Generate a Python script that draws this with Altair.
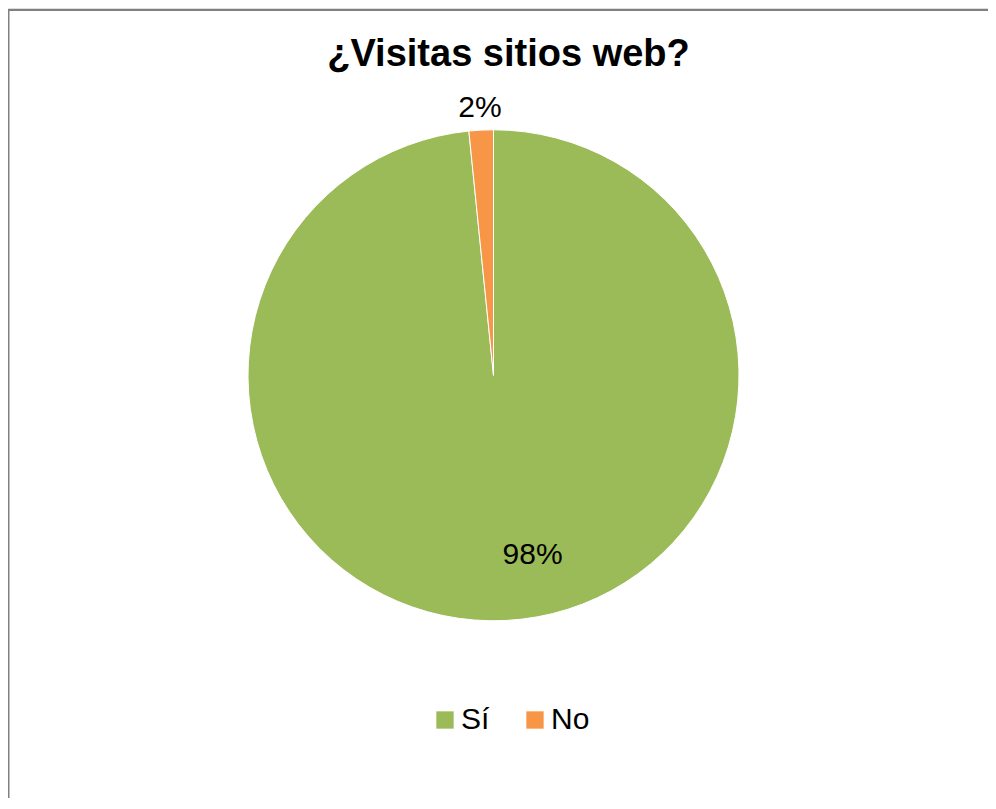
import altair as alt
import pandas as pd

categories = ["Sí", "No"]
values = [98.4, 1.6]
order = [1, 2]
colors = ["#9BBB59", "#F79646"]
title_text = "¿Visitas sitios web?"

df = pd.DataFrame({"cat": categories, "value": values, "ord": order})
total = sum(values)

W, H = 980, 790
CX, CY, R = 485.5, 367.3, 245.5
FONT = "Liberation Sans"

base = alt.Chart(df)

pie = base.mark_arc(outerRadius=R, x=CX, y=CY, stroke="white", strokeWidth=1).encode(
    theta=alt.Theta("value:Q", stack=True, scale=alt.Scale(domain=[0, total])),
    color=alt.Color(
        "cat:N",
        scale=alt.Scale(domain=categories, range=colors),
        sort=categories,
        legend=alt.Legend(
            title=None,
            orient="none",
            legendX=422,
            legendY=697,
            direction="horizontal",
            symbolType="square",
            symbolSize=300,
            symbolStrokeWidth=0,
            symbolOpacity=1,
            labelFont=FONT,
            labelFontSize=30,
            labelColor="black",
            labelOffset=1,
            columnPadding=30,
        ),
    ),
    order=alt.Order("ord:Q"),
)

def label_layer(cat, radius, dx):
    return (
        base.transform_stack(stack="value", groupby=[], as_=["t0", "t1"], sort=[alt.SortField("ord")])
        .transform_calculate(mid="(datum.t0 + datum.t1) / 2",
                             label="format(datum.value / %f, '.0%%')" % total)
        .transform_filter(alt.datum.cat == cat)
        .mark_text(x=CX, y=CY, radius=radius, dx=dx, font=FONT, fontSize=30,
                   color="black", baseline="middle", align="center")
        .encode(
            theta=alt.Theta("mid:Q", scale=alt.Scale(domain=[0, total])),
            text="label:N",
        )
    )

lab_no = label_layer("No", 268, 0)
lab_si = label_layer("Sí", 180, 30)

title = base.mark_text(text=title_text, font=FONT, fontSize=38, fontWeight="bold",
                       color="black", align="center", baseline="alphabetic").encode(
    x=alt.value(500.5), y=alt.value(57.5)
).transform_filter(alt.datum.ord == 1)

border_left = base.mark_rule(color="#808080", strokeWidth=2).encode(
    x=alt.value(0.5), y=alt.value(1), y2=alt.value(H)
).transform_filter(alt.datum.ord == 1)
border_top = base.mark_rule(color="#808080", strokeWidth=2).encode(
    x=alt.value(-0.5), x2=alt.value(W), y=alt.value(2)
).transform_filter(alt.datum.ord == 1)

chart = alt.layer(pie, lab_no, lab_si, title, border_left, border_top).properties(
    width=W, height=H,
    autosize=alt.AutoSizeParams(type="none"),
    padding={"left": 0, "top": 0, "right": 0, "bottom": 0},
).configure_view(stroke=None).configure(background="white")

chart.save("out.html", embed_options={"renderer": "svg", "actions": False})
